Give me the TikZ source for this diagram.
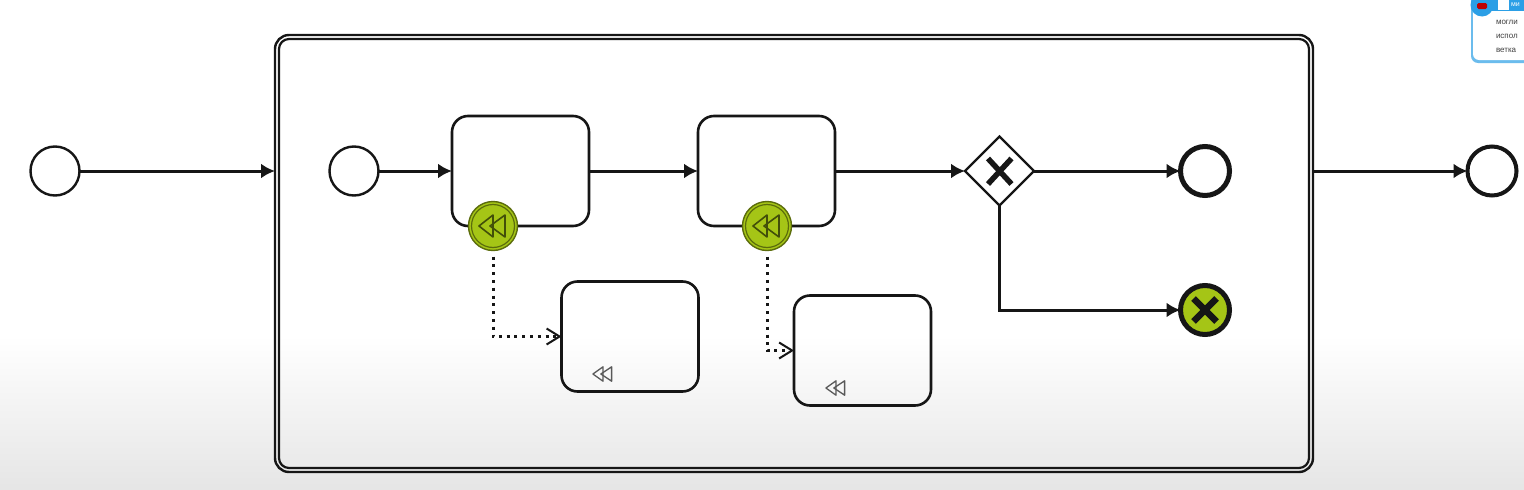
\documentclass[tikz,border=0pt]{standalone}
\usepackage{fontspec}
\setmainfont{Liberation Sans}
\usetikzlibrary{arrows.meta,shapes.geometric}
\definecolor{bpgreen}{HTML}{A5C516}
\definecolor{ink}{HTML}{161616}
\definecolor{noteblue}{HTML}{2B9FE6}
\tikzset{
  px/.style={x=1pt,y=-1pt},
  every node/.style={outer sep=0pt},
  flow/.style={draw=ink,line width=3pt,-{Latex[length=14pt,width=15pt]}},
  assoc/.style={draw=ink,line width=3pt,dash pattern=on 3pt off 4.8pt,
     -{Straight Barb[length=13pt,width=16pt,line width=2pt,line cap=butt]}},
  taskbox/.style={draw=ink,line width=2.6pt,rounded corners=16pt,minimum width=137pt,minimum height=110pt,inner sep=0pt},
  ev/.style={circle,draw=ink,fill=white,line width=2.4pt,minimum size=49pt,inner sep=0pt},
  endev/.style={ev,line width=5pt,minimum size=49pt},
  boundary/.style={circle,draw=bpgreen!55!black,fill=bpgreen,line width=1.4pt,minimum size=49pt,inner sep=0pt},
  gate/.style={diamond,draw=ink,fill=white,line width=2.2pt,minimum width=69pt,minimum height=69pt,inner sep=0pt,aspect=1},
  tinytext/.style={font=\fontsize{8}{9}\selectfont,text=black!75,anchor=west,inner sep=0pt},
  pics/rewind/.style={code={
    \draw[pic actions,line join=round] (0,-#1) -- (-14,0) -- (0,#1) -- cycle;
    \draw[pic actions,line join=round] (12,-#1) -- (-3,0) -- (12,#1) -- cycle;
  }}
}
\begin{document}
\begin{tikzpicture}[px]
\useasboundingbox (0,0) rectangle (1524,490);
\fill[white] (0,0) rectangle (1524,490);
\shade[top color=white,bottom color=black!10] (0,335) rectangle (1524,490);

% sticky note
\begin{scope}
\clip (0,0) rectangle (1524,490);
\path[fill=noteblue!70,rounded corners=7pt] (1471,-20) rectangle (1560,63);
\path[fill=white,rounded corners=6pt] (1473,-20) rectangle (1560,60);
\fill[noteblue] (1482,0) rectangle (1524,11);
\fill[noteblue] (1482,5) circle (11.5);
\node[fill=red!75!black,rounded corners=1.5pt,minimum width=10pt,minimum height=6pt,inner sep=0pt] (yt) at (1482,6) {};
\node[fill=white,minimum width=11pt,minimum height=10pt,inner sep=0pt] (wbox) at (1503.5,5) {};
\node[tinytext,text=white,font=\fontsize{7}{8}\selectfont] (hd) at (1511,5) {ми};
\node[tinytext] (n1) at (1496,22) {могли};
\node[tinytext] (n2) at (1496,36) {испол};
\node[tinytext] (n3) at (1496,50) {ветка};
\end{scope}

% outer subprocess
\node[draw=ink,line width=2.4pt,rounded corners=14pt,minimum width=1038pt,minimum height=437pt,inner sep=0pt] (sub) at (794,253.5) {};
\node[draw=ink,line width=2.2pt,rounded corners=10pt,minimum width=1030pt,minimum height=429pt,inner sep=0pt] (subin) at (794,253.5) {};

% events
\node[ev] (s0) at (55,171) {};
\node[ev] (s1) at (354,171) {};
\node[endev] (e1) at (1205,171) {};
\node[endev,fill=bpgreen] (e2) at (1205,310) {};
\node[endev,line width=4pt] (e0) at (1492,171) {};

% tasks
\node[taskbox] (t1) at (520.5,171) {};
\node[taskbox] (t2) at (766.5,171) {};
\node[taskbox] (t3) at (630,336.5) {};
\node[taskbox] (t4) at (862.5,350.5) {};

% gateway
\node[gate] (g) at (999.5,171) {};

% flows
\draw[flow] (s0) -- (s0 -| sub.west);
\draw[flow] (s1) -- (t1);
\draw[flow] (t1) -- (t2);
\draw[flow] (t2) -- (g);
\draw[flow] (g) -- (e1);
\draw[flow] (g.south) |- (e2);
\draw[flow] (e0 -| sub.east) -- (e0);

% boundary events
\node[boundary] (b1) at (493,226) {};
\node[boundary] (b2) at (767,226) {};
\node[circle,draw=bpgreen!55!black,line width=1.2pt,minimum size=43pt,inner sep=0pt] (b1i) at (b1) {};
\node[circle,draw=bpgreen!55!black,line width=1.2pt,minimum size=43pt,inner sep=0pt] (b2i) at (b2) {};
\pic[draw=bpgreen!40!black,line width=1.6pt] at (b1) {rewind=11};
\pic[draw=bpgreen!40!black,line width=1.6pt] at (b2) {rewind=11};

% compensation
\draw[assoc] (b1.south) ++(0,6) |- (t3.west);
\draw[assoc] (b2.south) ++(0,6) |- (t4.west);
\coordinate (i3) at (603,374);
\coordinate (i4) at (836,388);
\pic[draw=black!65,line width=1.3pt,scale=0.72] at (i3) {rewind=10};
\pic[draw=black!65,line width=1.3pt,scale=0.72] at (i4) {rewind=10};

% crosses
\draw[ink,line width=5.5pt] (988,158.5) -- (1011.5,184) (1011.5,158.5) -- (988,184);
\draw[ink,line width=6.5pt] (1193.5,298.5) -- (1216.5,321.5) (1216.5,298.5) -- (1193.5,321.5);
\end{tikzpicture}
\end{document}
